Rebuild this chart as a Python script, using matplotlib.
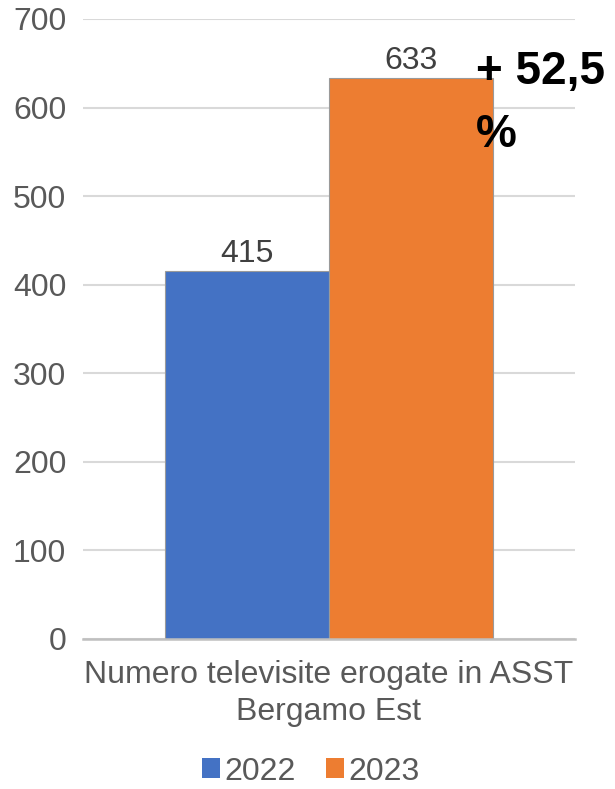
import matplotlib
matplotlib.use("Agg")
import matplotlib.pyplot as plt
from matplotlib.patches import Patch

plt.rcParams['font.family'] = ['Liberation Sans', 'DejaVu Sans']

category = "Numero televisite erogate in ASST\nBergamo Est"
years = ["2022", "2023"]
values = [415, 633]
colors = ["#4472C4", "#ED7D31"]
yticks = [0, 100, 200, 300, 400, 500, 600, 700]
annotation_line1 = "+ 52,5"
annotation_line2 = "%"

FS = 23

fig = plt.figure(figsize=(6.15, 7.89), dpi=100)
ax = fig.add_axes([83/615, 150/789, 492/615, 620/789])

offsets = [-0.25, 0.25]
for off, v, c, y in zip(offsets, values, colors, years):
    b = ax.bar(off, v, width=0.5, color=c, edgecolor="#9A9A9A", linewidth=0.8, label=y, zorder=3)
    ax.bar_label(b, labels=[str(v)], padding=1.5, fontsize=FS, color="#404040")

ax.set_xlim(-0.75, 0.75)
ax.set_ylim(0, 700)
ax.set_yticks(yticks)
ax.set_yticklabels([str(t) for t in yticks], fontsize=FS, color="#595959")
ax.set_xticks([0])
ax.set_xticklabels([category], fontsize=FS, color="#595959", linespacing=1.3)
ax.tick_params(axis='y', length=0, pad=12)
ax.tick_params(axis='x', length=0, pad=15)
ax.grid(axis='y', color="#D9D9D9", linewidth=1.5, zorder=0)
for s in ["top", "right", "left"]:
    ax.spines[s].set_visible(False)
ax.spines["bottom"].set_color("#BFBFBF")
ax.spines["bottom"].set_linewidth(1.8)
ax.spines["bottom"].set_zorder(4)

ax.text(0.448, 627, annotation_line1, fontsize=33, fontweight='bold', color='black', ha='left', va='baseline', zorder=5)
ax.text(0.448, 556, annotation_line2, fontsize=33, fontweight='bold', color='black', ha='left', va='baseline', zorder=5)

handles = [Patch(facecolor=c, edgecolor='none') for c in colors]
fig.legend(handles, years, loc='center', bbox_to_anchor=(0.505, 0.022), ncol=2, frameon=False,
           fontsize=FS, labelcolor="#595959", handlelength=0.58, handleheight=0.58,
           handletextpad=0.12, columnspacing=0.95, borderpad=0)

fig.savefig("out.png", dpi=100)
